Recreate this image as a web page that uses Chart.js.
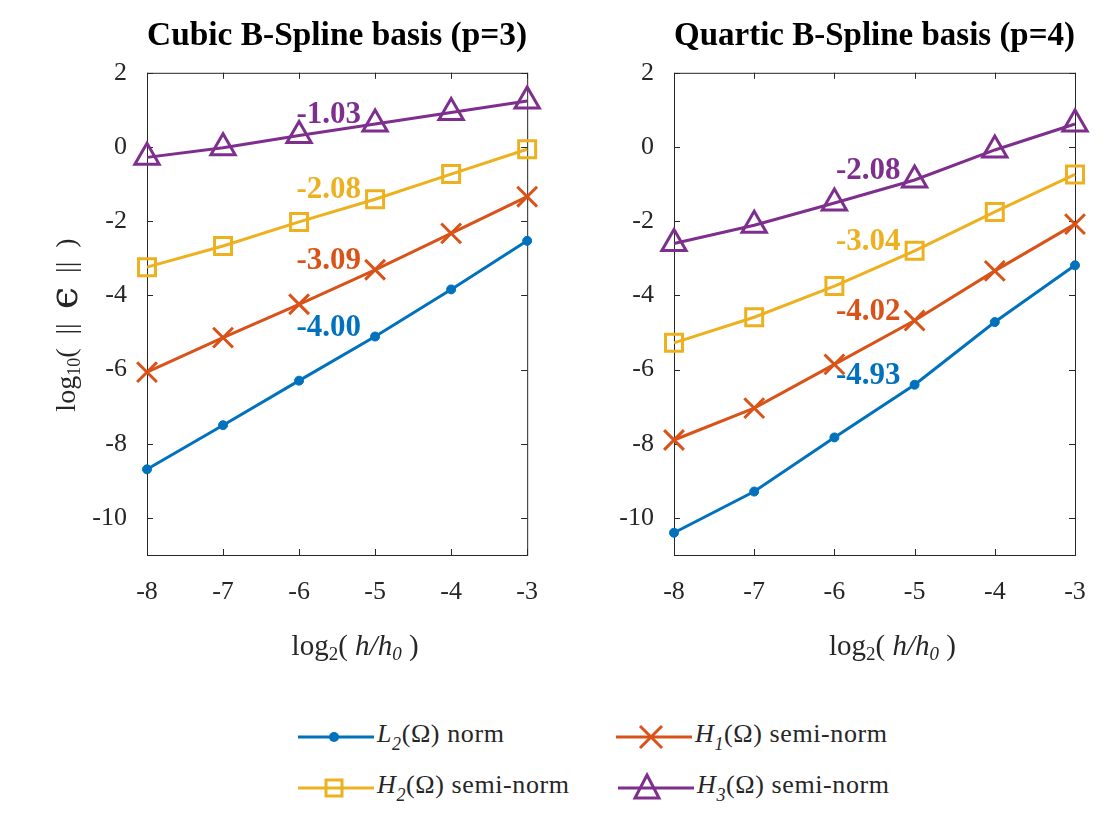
<!DOCTYPE html>
<html>
<head>
<meta charset="utf-8">
<script src="https://cdn.jsdelivr.net/npm/chart.js@4.4.1/dist/chart.umd.min.js"></script>
<style>
    body { margin: 0; background: #fff; }
    #wrap { position: relative; width: 1113px; height: 822px; font-family: 'Liberation Serif', serif; color: #262626; }
    #wrap canvas { position: absolute; top: 0; }
    .leg { position: absolute; display: flex; align-items: center; font-size: 26px; letter-spacing: 0.6px; white-space: nowrap; height: 34px; }
    .leg svg { margin-right: 3px; }
    .leg sub { font-size: 18px; font-style: italic; vertical-align: -8px; }
</style>
</head>
<body>
<div id="wrap">
    <canvas id="cubicChart" width="560" height="690" style="left:0"></canvas>
    <canvas id="quarticChart" width="557" height="690" style="left:556px"></canvas>

    <div class="leg" style="left:297px; top:720px">
        <svg width="77" height="34"><line x1="1" y1="17" x2="77" y2="17" stroke="#0072BD" stroke-width="3"/><circle cx="37" cy="17" r="5" fill="#0072BD"/></svg>
        <span><i>L</i><sub>2</sub>(Ω) norm</span>
    </div>
    <div class="leg" style="left:615px; top:720px">
        <svg width="77" height="34"><line x1="1" y1="17" x2="77" y2="17" stroke="#D95319" stroke-width="3"/><path d="M25 6 L47 28 M47 6 L25 28" stroke="#D95319" stroke-width="3"/></svg>
        <span><i>H</i><sub>1</sub>(Ω) semi-norm</span>
    </div>
    <div class="leg" style="left:297px; top:771px">
        <svg width="77" height="34"><line x1="1" y1="17" x2="77" y2="17" stroke="#EDB120" stroke-width="3"/><rect x="29" y="9" width="16" height="16" fill="none" stroke="#EDB120" stroke-width="3"/></svg>
        <span><i>H</i><sub>2</sub>(Ω) semi-norm</span>
    </div>
    <div class="leg" style="left:617px; top:771px">
        <svg width="77" height="34"><line x1="1" y1="17" x2="77" y2="17" stroke="#7E2F8E" stroke-width="3"/><path d="M30 4 L42 27 L18 27 Z" fill="none" stroke="#7E2F8E" stroke-width="3"/></svg>
        <span><i>H</i><sub>3</sub>(Ω) semi-norm</span>
    </div>
</div>

<script>
// x values are log2(h/h0), y values log10 of the error
const xSteps = [-8, -7, -6, -5, -4, -3];
const yTicks = [-10, -8, -6, -4, -2, 0, 2];

const cubicL2 = [-8.69, -7.50, -6.30, -5.11, -3.84, -2.53];
const cubicH1 = [-6.07, -5.14, -4.24, -3.31, -2.33, -1.34];
const cubicH2 = [-3.24, -2.67, -2.02, -1.41, -0.73, -0.06];
const cubicH3 = [-0.28, -0.02, 0.31, 0.62, 0.93, 1.24];
const cubicRates = ['-4.00', '-3.09', '-2.08', '-1.03'];

const quarticL2 = [-10.40, -9.29, -7.83, -6.41, -4.72, -3.19];
const quarticH1 = [-7.90, -7.04, -5.86, -4.68, -3.34, -2.08];
const quarticH2 = [-5.28, -4.59, -3.75, -2.80, -1.75, -0.74];
const quarticH3 = [-2.60, -2.11, -1.51, -0.89, -0.08, 0.62];
const quarticRates = ['-4.93', '-4.02', '-3.04', '-2.08'];

const seriesNames = ['L2(Ω) norm', 'H1(Ω) semi-norm', 'H2(Ω) semi-norm', 'H3(Ω) semi-norm'];
const seriesColors = ['#0072BD', '#D95319', '#EDB120', '#7E2F8E'];

const FONT = "'Liberation Serif', serif";
const INK = '#262626';

function buildDatasets(seriesValues) {
    const styles = [
        { pointStyle: 'circle', pointRadius: 4.5, pointBorderWidth: 1, fill: true },
        { pointStyle: 'crossRot', pointRadius: 14, pointBorderWidth: 3, fill: false },
        { pointStyle: 'rect', pointRadius: 12, pointBorderWidth: 3, fill: false },
        { pointStyle: 'triangle', pointRadius: 14, pointBorderWidth: 3, fill: false }
    ];
    return seriesValues.map((vals, i) => ({
        label: seriesNames[i],
        data: xSteps.map((x, j) => ({ x: x, y: vals[j] })),
        borderColor: seriesColors[i],
        borderWidth: 3,
        pointStyle: styles[i].pointStyle,
        pointRadius: styles[i].pointRadius,
        pointBorderWidth: styles[i].pointBorderWidth,
        pointBorderColor: seriesColors[i],
        pointBackgroundColor: styles[i].fill ? seriesColors[i] : 'rgba(0,0,0,0)',
        clip: false,
        tension: 0
    }));
}

// draw a run of [text, font, dy] pieces starting at x
function drawRich(ctx, pieces, x, y) {
    pieces.forEach(p => {
        ctx.font = p[1];
        ctx.fillText(p[0], x, y + p[2]);
        x += ctx.measureText(p[0]).width;
    });
}
function richWidth(ctx, pieces) {
    let w = 0;
    pieces.forEach(p => { ctx.font = p[1]; w += ctx.measureText(p[0]).width; });
    return w;
}

// matlab style box with inward ticks on all four sides
const boxTicks = {
    id: 'boxTicks',
    beforeDatasetsDraw(chart) {
        const { ctx, chartArea: a, scales } = chart;
        ctx.save();
        ctx.strokeStyle = INK;
        ctx.lineWidth = 1;
        ctx.strokeRect(a.left + 0.5, a.top + 0.5, a.right - a.left, a.bottom - a.top);
        ctx.beginPath();
        scales.x.ticks.forEach(t => {
            const px = Math.round(scales.x.getPixelForValue(t.value)) + 0.5;
            ctx.moveTo(px, a.bottom); ctx.lineTo(px, a.bottom - 6);
            ctx.moveTo(px, a.top); ctx.lineTo(px, a.top + 6);
        });
        scales.y.ticks.forEach(t => {
            const py = Math.round(scales.y.getPixelForValue(t.value)) + 0.5;
            ctx.moveTo(a.left, py); ctx.lineTo(a.left + 6, py);
            ctx.moveTo(a.right, py); ctx.lineTo(a.right - 6, py);
        });
        ctx.stroke();
        ctx.restore();
    }
};

// axis titles with italics and subscripts
const axisTitles = {
    id: 'axisTitles',
    afterDraw(chart, args, opts) {
        const { ctx, chartArea: a } = chart;
        ctx.save();
        ctx.fillStyle = INK;
        ctx.textBaseline = 'alphabetic';
        ctx.textAlign = 'left';
        const big = "29px " + FONT, small = "19px " + FONT;
        const xPieces = [['log', big, 0], ['2', small, 5], ['( ', big, 0], ['h/h', 'italic ' + big, 0],
                         ['0', 'italic ' + small, 5], [' )', big, 0]];
        const cx = (a.left + a.right) / 2 + 18;
        drawRich(ctx, xPieces, cx - richWidth(ctx, xPieces) / 2, 655);

        if (opts.yTitle) {
            const yPieces = [['log', "28px " + FONT, 0], ['10', "18px " + FONT, 5], ['(  ||  ', "28px " + FONT, 0],
                             ['ϵ', "40px 'DejaVu Serif', serif", 2], ['  ||  )', "28px " + FONT, 0]];
            ctx.translate(75, 325);
            ctx.rotate(-Math.PI / 2);
            drawRich(ctx, yPieces, -richWidth(ctx, yPieces) / 2, 0);
        }
        ctx.restore();
    }
};

// slope labels placed next to the x = -5 point of each series
const rateLabels = {
    id: 'rateLabels',
    afterDatasetsDraw(chart, args, opts) {
        const ctx = chart.ctx;
        ctx.save();
        ctx.font = "bold 31px " + FONT;
        ctx.textAlign = 'right';
        ctx.textBaseline = 'middle';
        opts.rates.forEach((txt, i) => {
            const pt = chart.getDatasetMeta(i).data[3];
            ctx.fillStyle = seriesColors[i];
            ctx.fillText(txt, pt.x - 14, pt.y - 9);
        });
        ctx.restore();
    }
};

function makeChart(id, title, seriesValues, rates, yWidth, padRight, showYTitle) {
    const ctx = document.getElementById(id).getContext('2d');
    return new Chart(ctx, {
        type: 'line',
        data: { datasets: buildDatasets(seriesValues) },
        options: {
            responsive: false,
            animation: false,
            layout: { padding: { left: 0, right: padRight, top: 0, bottom: 0 } },
            plugins: {
                legend: { display: false },
                tooltip: { enabled: false },
                title: {
                    display: true,
                    text: title,
                    fullSize: false,
                    color: '#000',
                    font: { family: FONT, size: 34, weight: 'bold' },
                    padding: { top: 16, bottom: 16 }
                },
                rateLabels: { rates: rates },
                axisTitles: { yTitle: showYTitle }
            },
            scales: {
                x: {
                    type: 'linear',
                    min: -8,
                    max: -3,
                    afterBuildTicks: (axis) => { axis.ticks = xSteps.map(v => ({ value: v })); },
                    afterFit: (axis) => { axis.height = 135; },
                    grid: { display: false, drawTicks: false },
                    border: { display: false },
                    ticks: { color: INK, padding: 22, font: { family: FONT, size: 26 } }
                },
                y: {
                    min: -11,
                    max: 2,
                    afterBuildTicks: (axis) => { axis.ticks = yTicks.map(v => ({ value: v })); },
                    afterFit: (axis) => { axis.width = yWidth; },
                    grid: { display: false, drawTicks: false },
                    border: { display: false },
                    ticks: { color: INK, padding: 20, font: { family: FONT, size: 26 } }
                }
            }
        },
        plugins: [boxTicks, rateLabels, axisTitles]
    });
}

makeChart('cubicChart', 'Cubic B-Spline basis (p=3)',
    [cubicL2, cubicH1, cubicH2, cubicH3], cubicRates, 147, 11, true);
makeChart('quarticChart', 'Quartic B-Spline basis (p=4)',
    [quarticL2, quarticH1, quarticH2, quarticH3], quarticRates, 118, 38, false);
</script>
</body>
</html>
